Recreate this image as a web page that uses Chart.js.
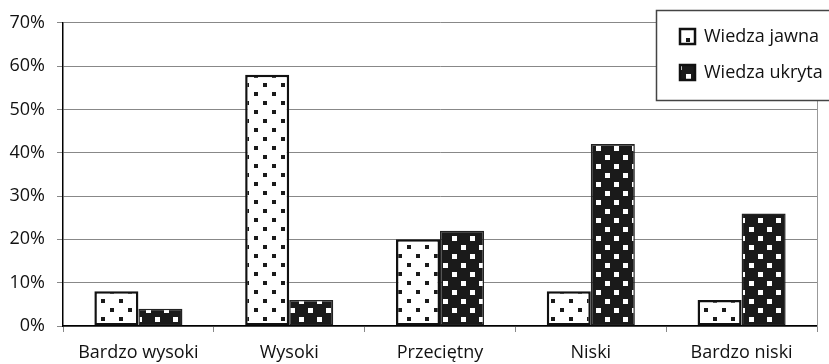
<!DOCTYPE html>
<html>
<head>
<meta charset="utf-8">
<style>
html,body{margin:0;padding:0;background:#fff;}
#c{display:block;}
</style>
<script src="https://cdn.jsdelivr.net/npm/chart.js@4.4.1/dist/chart.umd.min.js"></script>
</head>
<body>
<canvas id="c" width="829" height="364"></canvas>
<script>
const categories = ["Bardzo wysoki", "Wysoki", "Przeciętny", "Niski", "Bardzo niski"];
const seriesNames = ["Wiedza jawna", "Wiedza ukryta"];
const jawna = [8, 58, 20, 8, 6];
const ukryta = [4, 6, 22, 42, 26];
const yTicks = [0, 10, 20, 30, 40, 50, 60, 70];

const FONT = "'Open Sans', sans-serif";
const canvas = document.getElementById('c');
const ctx = canvas.getContext('2d');

function makePattern(bg, fg, s) {
  const c = document.createElement('canvas');
  c.width = 18; c.height = 18;
  const x = c.getContext('2d');
  x.fillStyle = bg; x.fillRect(0, 0, 18, 18);
  x.fillStyle = fg;
  x.fillRect(2, 2, s, s);
  x.fillRect(11, 11, s, s);
  return ctx.createPattern(c, 'repeat');
}
const patJawna = makePattern('#ffffff', '#1a1a1a', 4);
const patUkryta = makePattern('#1a1a1a', '#ffffff', 5);

const legendPlugin = {
  id: 'boxLegend',
  afterDraw(chart) {
    const g = chart.ctx;
    g.save();
    const x0 = 656, y0 = 10, w = 190, h = 90;
    g.fillStyle = '#fff';
    g.fillRect(x0, y0, w, h);
    g.strokeStyle = '#444';
    g.lineWidth = 1.5;
    g.strokeRect(x0 + 0.5, y0 + 0.5, w, h);
    const rows = [37, 73];
    chart.data.datasets.forEach((ds, i) => {
      const cy = rows[i];
      g.fillStyle = ds.backgroundColor;
      g.fillRect(679, cy - 9, 17, 17);
      g.strokeStyle = '#111';
      g.lineWidth = 2.5;
      g.strokeRect(680, cy - 8, 15, 15);
      g.fillStyle = '#111';
      g.font = "18px " + FONT;
      g.textBaseline = 'middle';
      g.textAlign = 'left';
      g.fillText(ds.label, 704, cy);
    });
    g.restore();
  }
};

new Chart(canvas, {
  type: 'bar',
  data: {
    labels: categories,
    datasets: [
      { label: seriesNames[0], data: jawna, backgroundColor: patJawna, borderColor: '#111', borderWidth: 2.5, borderSkipped: false },
      { label: seriesNames[1], data: ukryta, backgroundColor: patUkryta, borderColor: '#222', borderWidth: 1.5, borderSkipped: false }
    ]
  },
  options: {
    responsive: false,
    animation: false,
    devicePixelRatio: 1,
    layout: { padding: { top: 22, right: 12, left: 0, bottom: 0 } },
    datasets: { bar: { categoryPercentage: 0.584, barPercentage: 1 } },
    plugins: { legend: { display: false }, tooltip: { enabled: false } },
    scales: {
      x: {
        grid: { drawOnChartArea: false, drawTicks: true, tickLength: 6, color: '#888', offset: true },
        border: { display: true, color: '#000', width: 1.5 },
        ticks: { color: '#111', font: { family: FONT, size: 18 }, padding: 10 },
        afterFit(s) { s.height = 38; }
      },
      y: {
        min: 0, max: 70,
        afterBuildTicks(s) { s.ticks = yTicks.map(v => ({ value: v })); },
        grid: { color: '#888', lineWidth: 1, drawTicks: true, tickLength: 6 },
        border: { display: true, color: '#000', width: 1.5 },
        ticks: { color: '#111', font: { family: FONT, size: 18 }, padding: 12, callback: v => v + '%' },
        afterFit(s) { s.width = 63; }
      },
      y2: {
        position: 'right',
        min: 0, max: 70,
        grid: { display: false, drawTicks: false },
        border: { display: true, color: '#999', width: 1 },
        ticks: { display: false },
        afterFit(s) { s.width = 0; }
      }
    }
  },
  plugins: [legendPlugin]
});
</script>
</body>
</html>
